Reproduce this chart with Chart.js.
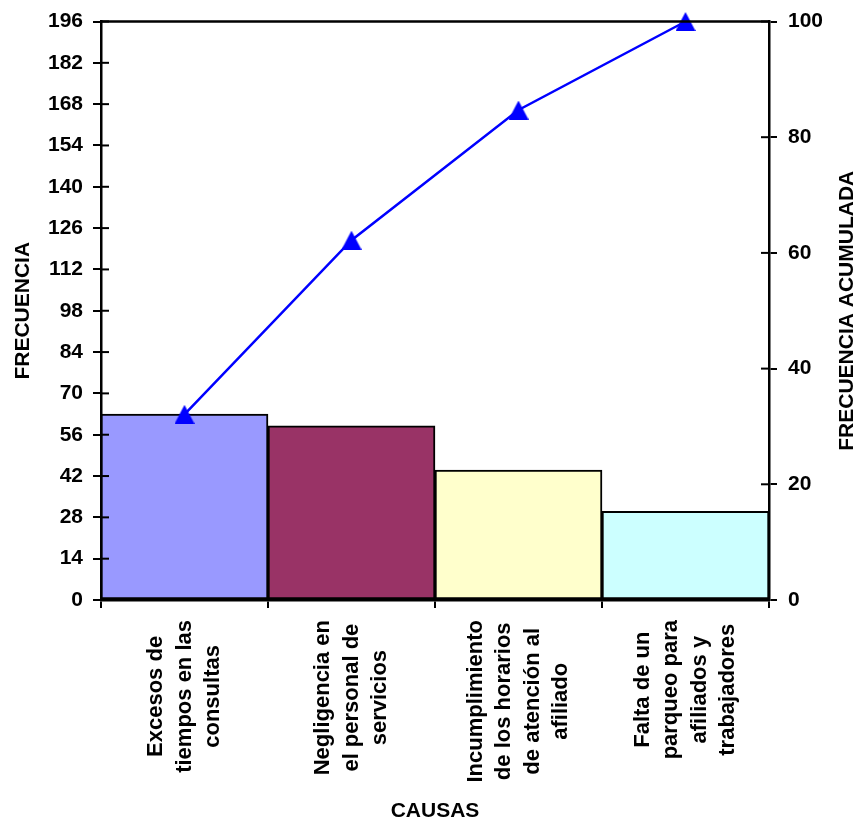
<!DOCTYPE html>
<html>
<head>
<meta charset="utf-8">
<script src="https://cdn.jsdelivr.net/npm/chart.js@4.4.1/dist/chart.umd.min.js"></script>
<style>
  body { margin: 0; background: #fff; }
  canvas { display: block; }
</style>
</head>
<body>
<canvas id="pareto" width="860" height="825"></canvas>
<script>
const causas = [
    ['Excesos de', 'tiempos en las', 'consultas'],
    ['Negligencia en', 'el personal de', 'servicios'],
    ['Incumplimiento', 'de los horarios', 'de atención al', 'afiliado'],
    ['Falta de un', 'parqueo para', 'afiliados y', 'trabajadores']
];
const frecuencia = [63, 59, 44, 30];
const acumulada = [32.1, 62.2, 84.7, 100];
const barColors = ['#9999FF', '#993366', '#FFFFCC', '#CCFFFF'];

const FONT = 'Liberation Sans, Arial, sans-serif';

// triangle marker, drawn as a small canvas so it sits centred on the point
function makeTriangle(w, h) {
    const c = document.createElement('canvas');
    c.width = w;
    c.height = h;
    const g = c.getContext('2d');
    g.fillStyle = '#0000FF';
    g.beginPath();
    g.moveTo(w / 2, 0);
    g.lineTo(w, h);
    g.lineTo(0, h);
    g.closePath();
    g.fill();
    return c;
}
const triangle = makeTriangle(20, 19);

const framePlugin = {
    id: 'frame',
    afterDraw(chart) {
        const ctx = chart.ctx;
        const area = chart.chartArea;
        ctx.save();
        ctx.strokeStyle = '#000';

        // top border of the plot area
        ctx.lineWidth = 2.5;
        ctx.beginPath();
        ctx.moveTo(area.left, area.top);
        ctx.lineTo(area.right, area.top);
        ctx.stroke();

        // tick marks crossing into the plot
        ctx.lineWidth = 2;
        chart.scales.y.ticks.forEach(t => {
            const py = chart.scales.y.getPixelForValue(t.value);
            ctx.beginPath();
            ctx.moveTo(area.left, py);
            ctx.lineTo(area.left + 8, py);
            ctx.stroke();
        });
        chart.scales.y1.ticks.forEach(t => {
            const py = chart.scales.y1.getPixelForValue(t.value);
            ctx.beginPath();
            ctx.moveTo(area.right - 8, py);
            ctx.lineTo(area.right, py);
            ctx.stroke();
        });

        // category labels, rotated, each line centred
        ctx.fillStyle = '#000';
        ctx.font = 'bold 22px ' + FONT;
        ctx.textAlign = 'center';
        ctx.textBaseline = 'middle';
        const spacing = 28.5;
        causas.forEach((lines, i) => {
            const cx = chart.scales.x.getPixelForValue(i);
            const maxW = Math.max(...lines.map(l => ctx.measureText(l).width));
            const cy = area.bottom + 20 + maxW / 2;
            ctx.save();
            ctx.translate(cx, cy);
            ctx.rotate(-Math.PI / 2);
            lines.forEach((l, j) => {
                ctx.fillText(l, 0, (j - (lines.length - 1) / 2) * spacing);
            });
            ctx.restore();
        });

        // right axis title, reading bottom to top
        ctx.font = 'bold 21px ' + FONT;
        ctx.save();
        ctx.translate(847, (area.top + area.bottom) / 2);
        ctx.rotate(-Math.PI / 2);
        ctx.fillText('FRECUENCIA ACUMULADA', 0, 0);
        ctx.restore();

        ctx.restore();
    }
};

const tickFont = { family: FONT, size: 21, weight: 'bold', lineHeight: 1 };

new Chart(document.getElementById('pareto'), {
    type: 'bar',
    data: {
        labels: causas,
        datasets: [
            {
                type: 'line',
                label: 'Frecuencia acumulada',
                data: acumulada,
                yAxisID: 'y1',
                borderColor: '#0000FF',
                borderWidth: 2.5,
                pointStyle: triangle,
                pointRadius: 10,
                tension: 0,
                clip: false,
                order: 0
            },
            {
                label: 'Frecuencia',
                data: frecuencia,
                yAxisID: 'y',
                backgroundColor: barColors,
                borderColor: '#000',
                borderWidth: 2,
                borderSkipped: false,
                barPercentage: 1,
                categoryPercentage: 1,
                order: 1
            }
        ]
    },
    options: {
        responsive: false,
        animation: false,
        layout: { padding: { top: 20, left: 0, right: 0, bottom: 0 } },
        plugins: {
            legend: { display: false },
            tooltip: { enabled: false }
        },
        scales: {
            x: {
                afterFit(scale) { scale.height = 225; },
                ticks: { display: false },
                grid: {
                    drawOnChartArea: false,
                    color: '#000',
                    lineWidth: 2,
                    tickLength: 8
                },
                border: { color: '#000', width: 2.5 },
                title: {
                    display: true,
                    text: 'CAUSAS',
                    color: '#000',
                    font: { family: FONT, size: 21, weight: 'bold' },
                    padding: { top: 0, bottom: 1 }
                }
            },
            y: {
                position: 'left',
                min: 0,
                max: 196,
                afterFit(scale) { scale.width = 101; },
                ticks: { stepSize: 14, color: '#000', font: tickFont, padding: 10 },
                grid: {
                    drawOnChartArea: false,
                    color: '#000',
                    lineWidth: 2,
                    tickLength: 8
                },
                border: { color: '#000', width: 2.5 },
                title: {
                    display: true,
                    text: 'FRECUENCIA',
                    color: '#000',
                    font: { family: FONT, size: 21, weight: 'bold' },
                    padding: { top: 11, bottom: 0 }
                }
            },
            y1: {
                position: 'right',
                min: 0,
                max: 100,
                afterFit(scale) { scale.width = 91; },
                ticks: { stepSize: 20, color: '#000', font: tickFont, padding: 11 },
                grid: {
                    drawOnChartArea: false,
                    color: '#000',
                    lineWidth: 2,
                    tickLength: 8
                },
                border: { color: '#000', width: 2.5 }
            }
        }
    },
    plugins: [framePlugin]
});
</script>
</body>
</html>
